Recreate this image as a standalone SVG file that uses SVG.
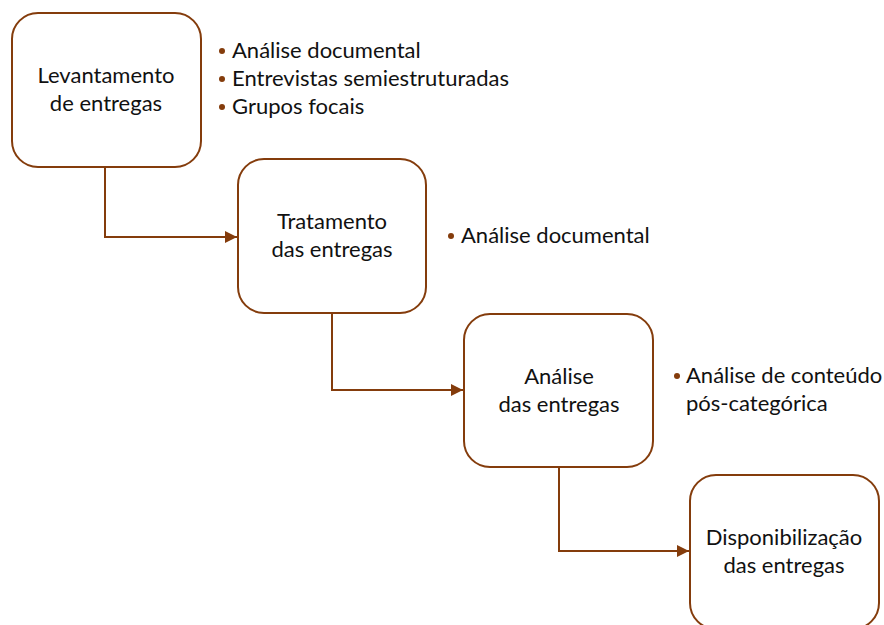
<svg xmlns="http://www.w3.org/2000/svg" width="884" height="625" viewBox="0 0 884 625">
<style>
.box{fill:#fff;stroke:#843C0C;stroke-width:2}
.lbl{font-family:Lato,"Open Sans","Liberation Sans",sans-serif;font-size:22px;fill:#111;text-anchor:middle}
.li{font-family:Lato,"Open Sans","Liberation Sans",sans-serif;font-size:22px;fill:#111}
.dot{fill:#843C0C}
.conn{fill:none;stroke:#843C0C;stroke-width:2}
</style>
<defs>
<marker id="arr" viewBox="0 0 10 10" refX="10" refY="5" markerWidth="6" markerHeight="6" markerUnits="strokeWidth" orient="auto">
<path d="M0,0 L10,5 L0,10 z" fill="#843C0C"/>
</marker>
</defs>
<g id="connectors">
<path class="conn" d="M105,167 V237 H237" marker-end="url(#arr)"/>
<path class="conn" d="M332,313 V390 H463" marker-end="url(#arr)"/>
<path class="conn" d="M559,467 V551 H689" marker-end="url(#arr)"/>
</g>
<g id="node1">
<rect class="box" x="12" y="13" width="189" height="154" rx="26"/>
<text class="lbl" x="106" y="83">Levantamento</text>
<text class="lbl" x="106" y="111">de entregas</text>
</g>
<g id="list1">
<circle class="dot" cx="222" cy="51" r="3"/>
<text class="li" x="232" y="58">Análise documental</text>
<circle class="dot" cx="222" cy="79" r="3"/>
<text class="li" x="232" y="86">Entrevistas semiestruturadas</text>
<circle class="dot" cx="222" cy="107" r="3"/>
<text class="li" x="232" y="114">Grupos focais</text>
</g>
<g id="node2">
<rect class="box" x="238" y="159" width="188" height="154" rx="26"/>
<text class="lbl" x="332" y="229">Tratamento</text>
<text class="lbl" x="332" y="257">das entregas</text>
</g>
<g id="list2">
<circle class="dot" cx="451" cy="236" r="3"/>
<text class="li" x="461" y="243">Análise documental</text>
</g>
<g id="node3">
<rect class="box" x="464" y="314" width="189" height="153" rx="26"/>
<text class="lbl" x="559" y="384">Análise</text>
<text class="lbl" x="559" y="412">das entregas</text>
</g>
<g id="list3">
<circle class="dot" cx="677" cy="376" r="3"/>
<text class="li" x="686" y="383">Análise de conteúdo</text>
<text class="li" x="686" y="411">pós-categórica</text>
</g>
<g id="node4">
<rect class="box" x="690" y="475" width="189" height="154" rx="26"/>
<text class="lbl" x="784" y="545">Disponibilização</text>
<text class="lbl" x="784" y="573">das entregas</text>
</g>
</svg>
